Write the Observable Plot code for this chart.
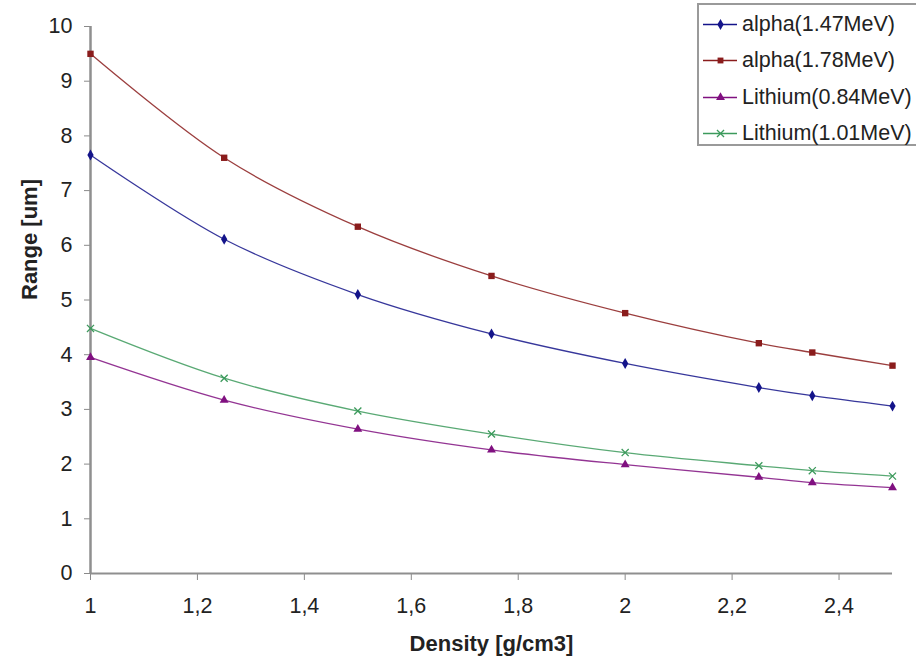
<!DOCTYPE html>
<html>
<head>
<meta charset="utf-8">
<script src="https://cdn.jsdelivr.net/npm/d3@7"></script>
<script src="https://cdn.jsdelivr.net/npm/@observablehq/plot@0.6"></script>
<style>
  html, body { margin: 0; padding: 0; background: #fff; }
  #wrap { position: relative; width: 916px; height: 660px; overflow: hidden; font-family: Arial, "Liberation Sans", sans-serif; }
  #legend { position: absolute; left: 697px; top: 3px; width: 240px; height: 143px; border: 2px solid #9a9a9a; background: #fff; box-sizing: border-box; }
  .row { position: absolute; left: 4px; height: 26px; display: flex; align-items: center; font-size: 21.5px; color: #222; white-space: nowrap; }
  .row svg { margin-right: 5px; }
</style>
</head>
<body>
<div id="wrap"><div id="chart"></div><div id="legend"></div></div>
<script>
const density = [1, 1.25, 1.5, 1.75, 2, 2.25, 2.35, 2.5];
const alpha147 = [7.65, 6.11, 5.10, 4.38, 3.84, 3.40, 3.25, 3.06];
const alpha178 = [9.50, 7.60, 6.34, 5.44, 4.76, 4.21, 4.04, 3.80];
const li084 = [3.95, 3.17, 2.64, 2.26, 1.99, 1.76, 1.66, 1.57];
const li101 = [4.48, 3.57, 2.97, 2.55, 2.21, 1.97, 1.88, 1.78];
const seriesNames = ["alpha(1.47MeV)", "alpha(1.78MeV)", "Lithium(0.84MeV)", "Lithium(1.01MeV)"];
const seriesColors = ["#14148a", "#8a1c1c", "#801080", "#3c9a5c"];
const seriesSymbols = ["diamond", "square", "triangle", "times"];
const xTicks = [1, 1.2, 1.4, 1.6, 1.8, 2, 2.2, 2.4];
const yTicks = [0, 1, 2, 3, 4, 5, 6, 7, 8, 9, 10];

const seriesValues = [alpha147, alpha178, li084, li101];
const rows = [];
seriesValues.forEach((vals, i) => vals.forEach((v, j) => rows.push({series: seriesNames[i], x: density[j], y: v})));

const fmt = d => String(d).replace(".", ",");
const font = "Arial, 'Liberation Sans', sans-serif";

const marks = [
  Plot.axisY({ticks: yTicks, tickSize: 6, tickPadding: 12, stroke: "#8a8a8a", fill: "#222", fontSize: 21.5, label: null}),
  Plot.axisX({ticks: xTicks, tickSize: 7, tickPadding: 17, stroke: "#8a8a8a", fill: "#222", fontSize: 21.5, tickFormat: fmt, label: null}),
  Plot.ruleX([1], {stroke: "#8f8f8f", strokeWidth: 2.5}),
  Plot.ruleY([0], {x1: 1, x2: 2.5, stroke: "#8f8f8f", strokeWidth: 2}),
  Plot.text(["Range [um]"], {frameAnchor: "left", rotate: -90, dx: -61, fontWeight: "bold", fontSize: 22, fill: "#222"}),
  Plot.text(["Density [g/cm3]"], {frameAnchor: "bottom", dy: 77, fontWeight: "bold", fontSize: 22, fill: "#222"})
];
seriesNames.forEach((name, i) => {
  const d = rows.filter(r => r.series === name);
  marks.push(Plot.line(d, {x: "x", y: "y", stroke: seriesColors[i], strokeWidth: 1.3, strokeOpacity: 0.85, curve: "catmull-rom"}));
  if (seriesSymbols[i] === "times") {
    marks.push(Plot.dot(d, {x: "x", y: "y", symbol: "times", stroke: seriesColors[i], r: 3.3, strokeWidth: 1.3}));
  } else {
    marks.push(Plot.dot(d, {x: "x", y: "y", symbol: seriesSymbols[i], fill: seriesColors[i], r: seriesSymbols[i] === "square" ? 3.6 : 3.3}));
  }
});

const chart = Plot.plot({
  width: 916, height: 660,
  marginLeft: 90, marginRight: 24, marginTop: 26, marginBottom: 87,
  style: {fontFamily: font, fontSize: "21.5px", background: "#fff"},
  x: {domain: [1, 2.5]},
  y: {domain: [0, 10]},
  marks
});
document.getElementById("chart").appendChild(chart);

// legend
const legend = document.getElementById("legend");
const tops = [6, 42, 79, 115];
seriesNames.forEach((name, i) => {
  const row = document.createElement("div");
  row.className = "row";
  row.style.top = tops[i] + "px";
  const sw = Plot.plot({
    width: 34, height: 14, margin: 0,
    x: {domain: [0, 1], axis: null}, y: {domain: [0, 1], axis: null},
    style: {background: "transparent"},
    marks: [
      Plot.ruleY([0.5], {stroke: seriesColors[i], strokeWidth: 1.3}),
      seriesSymbols[i] === "times"
        ? Plot.dot([[0.5, 0.5]], {symbol: "times", stroke: seriesColors[i], r: 3.3, strokeWidth: 1.3})
        : Plot.dot([[0.5, 0.5]], {symbol: seriesSymbols[i], fill: seriesColors[i], r: 3.3})
    ]
  });
  row.appendChild(sw);
  const t = document.createElement("span");
  t.textContent = name;
  row.appendChild(t);
  legend.appendChild(row);
});
</script>
</body>
</html>
